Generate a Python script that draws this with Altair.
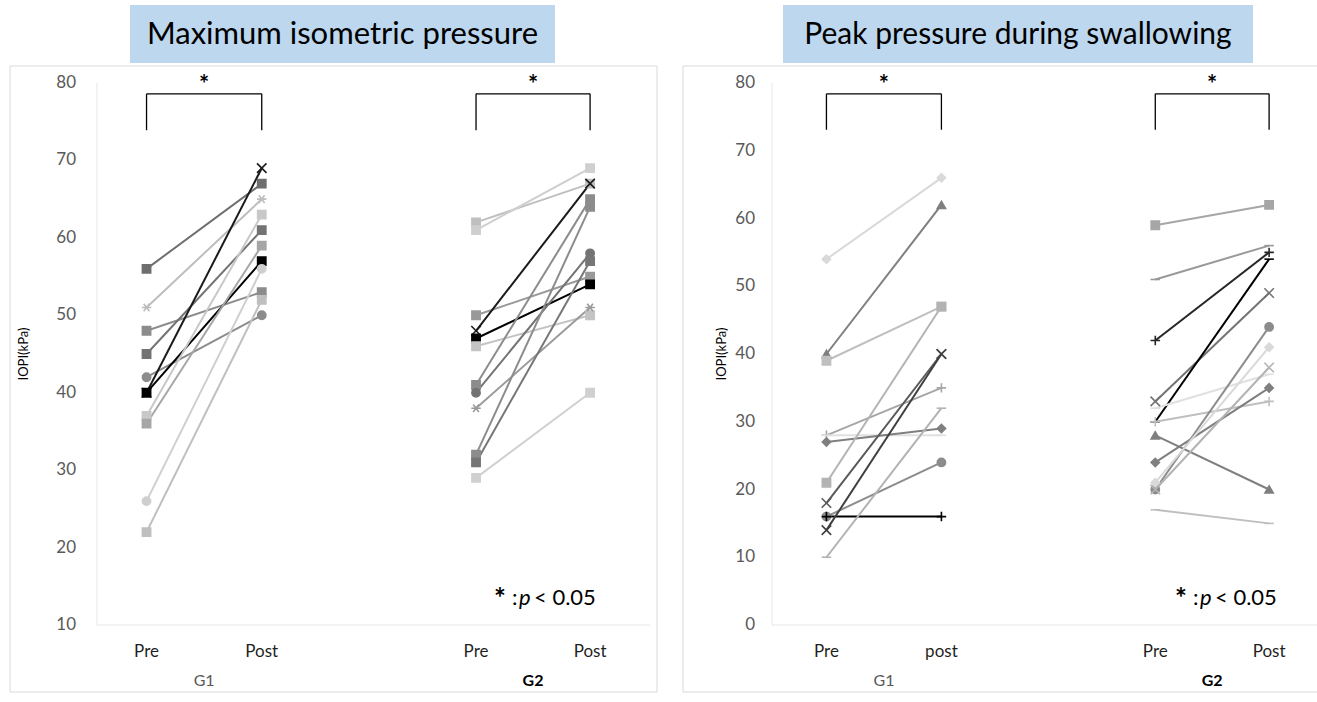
import altair as alt
import pandas as pd

# ---------------- data ----------------
# x category positions: G1 Pre, G1 Post, G2 Pre, G2 Post
POS = [0.43, 1.43, 3.29, 4.28]
TICK_LABELS_L = ["Pre", "Post", "Pre", "Post"]
TICK_LABELS_R = ["Pre", "post", "Pre", "Post"]
GROUP_NAMES = ["G1", "G2"]
Y_TICKS_L = [10, 20, 30, 40, 50, 60, 70, 80]
Y_TICKS_R = [0, 10, 20, 30, 40, 50, 60, 70, 80]
TITLE_L = "Maximum isometric pressure"
TITLE_R = "Peak pressure during swallowing"
Y_TITLE = "IOPI(kPa)"

SQ, CI, DI, TR = "square", "circle", "diamond", "triangle-up"
XX = "M-1,-1L1,1M-1,1L1,-1"
PL = "M-1,0L1,0M0,-1L0,1"
DA = "M-1,0L1,0"
AS = "M-1,0L1,0M-0.6,-0.8L0.6,0.8M-0.6,0.8L0.6,-0.8"

# Left panel, G1
L1_PRE = [56, 51, 48, 45, 42, 40, 40, 37, 36, 26, 22]
L1_POST = [67, 65, 53, 61, 50, 69, 57, 63, 59, 56, 52]
L1_COL = ["#6e6e6e", "#bdbdbd", "#8c8c8c", "#737373", "#8c8c8c", "#1a1a1a",
          "#000000", "#c8c8c8", "#a6a6a6", "#cfcfcf", "#bfbfbf"]
L1_SHP = [SQ, AS, SQ, SQ, CI, XX, SQ, SQ, SQ, CI, SQ]
# Left panel, G2
L2_PRE = [62, 61, 50, 48, 47, 46, 41, 40, 38, 32, 31, 29]
L2_POST = [67, 69, 55, 67, 54, 50, 65, 58, 51, 64, 57, 40]
L2_COL = ["#bfbfbf", "#cfcfcf", "#999999", "#1a1a1a", "#000000", "#c4c4c4",
          "#8c8c8c", "#737373", "#9a9a9a", "#8c8c8c", "#767676", "#d0d0d0"]
L2_SHP = [SQ, SQ, SQ, XX, SQ, SQ, SQ, CI, AS, SQ, SQ, SQ]
# Right panel, G1
R1_PRE = [54, 40, 39, 28, 28, 27, 21, 18, 16, 16, 14, 10]
R1_POST = [66, 62, 47, 35, 28, 29, 47, 40, 24, 16, 40, 32]
R1_COL = ["#d9d9d9", "#7f7f7f", "#bfbfbf", "#a6a6a6", "#e0e0e0", "#7f7f7f",
          "#b3b3b3", "#595959", "#8c8c8c", "#000000", "#404040", "#b3b3b3"]
R1_SHP = [DI, TR, SQ, PL, DA, DI, SQ, XX, CI, PL, XX, DA]
# Right panel, G2
R2_PRE = [59, 51, 42, 33, 30, 32, 30, 28, 24, 20, 21, 20, 17]
R2_POST = [62, 56, 55, 49, 54, 37, 33, 20, 35, 44, 41, 38, 15]
R2_COL = ["#a6a6a6", "#999999", "#262626", "#737373", "#000000", "#e0e0e0",
          "#bfbfbf", "#7f7f7f", "#7f7f7f", "#8c8c8c", "#d9d9d9", "#b3b3b3", "#bfbfbf"]
R2_SHP = [SQ, DA, PL, XX, DA, DA, PL, TR, DI, CI, DI, XX, DA]

FONT = "Lato"
Y_TOP_PX, Y_BOT_PX = 83, 625


def series_rows(pre, post, cols, shps, p_pre, p_post, prefix):
    rows = []
    for i, (a, b, c, s) in enumerate(zip(pre, post, cols, shps)):
        sz = 90 if s in (XX, PL, DA, AS) else 68
        rows.append(dict(sid=f"{prefix}{i}", x=p_pre, v=a, col=c, shp=s, sz=sz))
        rows.append(dict(sid=f"{prefix}{i}", x=p_post, v=b, col=c, shp=s, sz=sz))
    return rows


def txt(t, px, py, **kw):
    base = dict(font=FONT, color="#000000")
    base.update(kw)
    return alt.Chart(pd.DataFrame([dict(t=t)])).mark_text(**base).encode(
        x=alt.value(px), y=alt.value(py), text="t:N")


def make_panel(groups, x_dom, x_rng, y_dom, y_ticks, tick_labels, axis_px,
               label_pad, title_px, br_top, br_bot, star_v, frame, tbox, title,
               annot_dx, title_size):
    rows = []
    for gi, (pre, post, cols, shps) in enumerate(groups):
        rows += series_rows(pre, post, cols, shps, POS[2 * gi], POS[2 * gi + 1], f"g{gi}_")
    df = pd.DataFrame(rows)

    xs = alt.Scale(domain=x_dom, range=x_rng, nice=False, zero=False)
    ys = alt.Scale(domain=y_dom, range=[Y_BOT_PX, Y_TOP_PX], nice=False, zero=False)
    X = lambda f: alt.X(f, scale=xs, axis=None)
    Y = lambda f: alt.Y(f, scale=ys, axis=None)

    # frame and title box
    one = pd.DataFrame([dict(t=title)])
    fr = alt.Chart(one).mark_rect(fillOpacity=0, stroke="#d9d9d9", strokeWidth=1).encode(
        x=alt.value(frame[0]), x2=alt.value(frame[1]), y=alt.value(frame[2]), y2=alt.value(frame[3]))
    box = alt.Chart(one).mark_rect(fill="#BDD7EE").encode(
        x=alt.value(tbox[0]), x2=alt.value(tbox[1]), y=alt.value(tbox[2]), y2=alt.value(tbox[3]))
    ttl = txt(title, (tbox[0] + tbox[1]) / 2, (tbox[2] + tbox[3]) / 2 + 1,
              fontSize=title_size, baseline="middle")

    # axis lines
    ydom = alt.Chart(pd.DataFrame([dict(a=y_dom[0], b=y_dom[1])])).mark_rule(
        color="#e6e6e6", strokeWidth=1).encode(x=alt.value(axis_px), y=Y("a:Q"), y2="b:Q")
    xdom = alt.Chart(pd.DataFrame([dict(a=y_dom[0])])).mark_rule(
        color="#e6e6e6", strokeWidth=1).encode(
        x=alt.value(axis_px), x2=alt.value(x_rng[1]), y=Y("a:Q"))

    # tick labels
    ylab = alt.Chart(pd.DataFrame(dict(v=y_ticks, t=[str(v) for v in y_ticks]))).mark_text(
        font=FONT, fontSize=17, color="#595959", align="right", baseline="middle").encode(
        x=alt.value(axis_px - label_pad), y=Y("v:Q"), text="t:N")
    xlab = alt.Chart(pd.DataFrame(dict(x=POS, t=tick_labels))).mark_text(
        font=FONT, fontSize=17, color="#1f1f1f", baseline="middle").encode(
        x=X("x:Q"), y=alt.value(652), text="t:N")
    ytitle = txt(Y_TITLE, title_px, 354, fontSize=13, angle=270, baseline="middle")

    lines = alt.Chart(df).mark_line(strokeWidth=2).encode(
        x=X("x:Q"), y=Y("v:Q"), detail="sid:N",
        color=alt.Color("col:N", scale=None))
    points = alt.Chart(df).mark_point(filled=True, strokeWidth=1.6, opacity=1).encode(
        x=X("x:Q"), y=Y("v:Q"),
        shape=alt.Shape("shp:N", scale=None),
        size=alt.Size("sz:Q", scale=None),
        color=alt.Color("col:N", scale=None),
        stroke=alt.Stroke("col:N", scale=None))

    # significance brackets
    seg = []
    for gi in range(2):
        a, b = POS[2 * gi], POS[2 * gi + 1]
        seg += [dict(x=a, x2=b, y=br_top, y2=br_top),
                dict(x=a, x2=a, y=br_top, y2=br_bot),
                dict(x=b, x2=b, y=br_top, y2=br_bot)]
    br = alt.Chart(pd.DataFrame(seg)).mark_rule(color="#000000", strokeWidth=1.3).encode(
        x=X("x:Q"), x2="x2:Q", y=Y("y:Q"), y2="y2:Q")
    stars = alt.Chart(pd.DataFrame([
        dict(x=(POS[0] + POS[1]) / 2, v=star_v, t="*"),
        dict(x=(POS[2] + POS[3]) / 2, v=star_v, t="*")])).mark_text(
        font=FONT, fontSize=24, fontWeight="bold", baseline="middle", color="#000").encode(
        x=X("x:Q"), y=Y("v:Q"), text="t:N")

    # group labels
    g1 = alt.Chart(pd.DataFrame([dict(x=(POS[0] + POS[1]) / 2, t=GROUP_NAMES[0])])).mark_text(
        font=FONT, fontSize=16, color="#595959", baseline="middle").encode(
        x=X("x:Q"), y=alt.value(681), text="t:N")
    g2 = alt.Chart(pd.DataFrame([dict(x=(POS[2] + POS[3]) / 2, t=GROUP_NAMES[1])])).mark_text(
        font=FONT, fontSize=16, fontWeight="bold", color="#000000", baseline="middle").encode(
        x=X("x:Q"), y=alt.value(681), text="t:N")

    # "* : p < 0.05"
    a1 = txt("*", 494 + annot_dx, 600, fontSize=28, fontWeight="bold", align="left")
    a2 = txt(":", 512 + annot_dx, 598, fontSize=22, align="left")
    a3 = txt("p", 519 + annot_dx, 598, fontSize=22, fontStyle="italic", align="left")
    a4 = txt("< 0.05", 534 + annot_dx, 598, fontSize=22, align="left")

    return alt.layer(fr, box, ttl, ydom, xdom, ylab, xlab, ytitle, lines, points,
                     br, stars, g1, g2, a1, a2, a3, a4)


left = make_panel(
    [(L1_PRE, L1_POST, L1_COL, L1_SHP), (L2_PRE, L2_POST, L2_COL, L2_SHP)],
    x_dom=[0, 4.8], x_rng=[97, 650], y_dom=[10, 80], y_ticks=Y_TICKS_L,
    tick_labels=TICK_LABELS_L, axis_px=97, label_pad=21, title_px=24,
    br_top=78.6, br_bot=73.9, star_v=79.6,
    frame=(10, 657, 66, 692), tbox=(130, 555, 5, 63), title=TITLE_L, annot_dx=0,
    title_size=31)

right = make_panel(
    [(R1_PRE, R1_POST, R1_COL, R1_SHP), (R2_PRE, R2_POST, R2_COL, R2_SHP)],
    x_dom=[0, 4.74], x_rng=[777, 1322], y_dom=[0, 80], y_ticks=Y_TICKS_R,
    tick_labels=TICK_LABELS_R, axis_px=772, label_pad=17, title_px=722,
    br_top=78.4, br_bot=73.1, star_v=79.5,
    frame=(683, 1330, 66, 692), tbox=(783, 1253, 5, 63), title=TITLE_R, annot_dx=681,
    title_size=30)

chart = alt.layer(left, right).resolve_scale(
    x="independent", y="independent"
).properties(
    width=1317, height=702, padding=0,
    autosize=alt.AutoSizeParams(type="none"),
    background="#ffffff",
).configure_view(stroke=None)

chart.save("out.html", embed_options={"renderer": "svg", "actions": False})
